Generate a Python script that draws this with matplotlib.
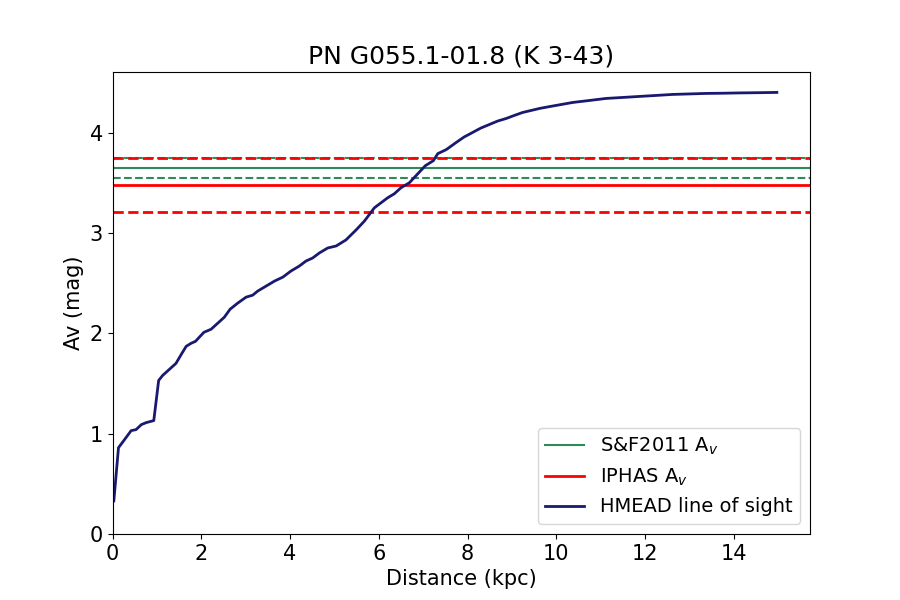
from matplotlib import pyplot as plt
import numpy as np

# Curva HMEAD (distancia en kpc, Av en mag)
dist = [0.03, 0.135, 0.27, 0.42, 0.53, 0.65, 0.76, 0.93, 1.04, 1.13, 1.28, 1.43,
        1.55, 1.66, 1.77, 1.87, 2.06, 2.22, 2.37, 2.52, 2.65, 2.82, 3.01, 3.16,
        3.27, 3.46, 3.65, 3.84, 4.02, 4.21, 4.36, 4.51, 4.66, 4.85, 5.04, 5.26,
        5.49, 5.68, 5.90, 6.05, 6.20, 6.35, 6.50, 6.69, 6.88, 7.05, 7.23, 7.33,
        7.52, 7.74, 7.92, 8.11, 8.30, 8.49, 8.68, 8.87, 9.05, 9.24, 9.43, 9.62,
        9.80, 9.99, 10.18, 10.37, 10.75, 11.12, 11.50, 11.87, 12.25, 12.62,
        13.00, 13.37, 13.75, 14.12, 14.50, 14.97]
av = [0.33, 0.86, 0.94, 1.03, 1.04, 1.09, 1.11, 1.13, 1.53, 1.58, 1.64, 1.70,
      1.79, 1.87, 1.90, 1.92, 2.01, 2.04, 2.10, 2.16, 2.24, 2.30, 2.36, 2.38,
      2.42, 2.47, 2.52, 2.56, 2.62, 2.67, 2.72, 2.75, 2.80, 2.85, 2.87, 2.93,
      3.03, 3.12, 3.25, 3.30, 3.35, 3.39, 3.45, 3.50, 3.59, 3.67, 3.72, 3.79,
      3.83, 3.90, 3.955, 4.00, 4.045, 4.08, 4.115, 4.14, 4.17, 4.20, 4.22, 4.24,
      4.255, 4.27, 4.285, 4.30, 4.32, 4.34, 4.35, 4.36, 4.37, 4.38,
      4.385, 4.39, 4.392, 4.395, 4.397, 4.40]

# Valores de extincion y sus errores
sf_av, sf_err = 3.65, 0.10
iphas_av, iphas_lo, iphas_hi = 3.48, 3.21, 3.75

plt.figure(figsize=(9, 6), dpi=100)
plt.axhline(sf_av, color='seagreen', lw=1.5, label='S&F2011 A$_v$')
plt.axhline(sf_av - sf_err, color='seagreen', lw=1.5, ls='--')
plt.axhline(sf_av + sf_err, color='seagreen', lw=1.5, ls='--')
plt.axhline(iphas_av, color='red', lw=2, label='IPHAS A$_v$')
plt.axhline(iphas_lo, color='red', lw=2, ls='--')
plt.axhline(iphas_hi, color='red', lw=2, ls='--')
plt.plot(dist, av, color='midnightblue', lw=2, label='HMEAD line of sight')

plt.xlim(left=0)
plt.ylim(bottom=0)
plt.title('PN G055.1-01.8 (K 3-43)', fontsize=18)
plt.xlabel('Distance (kpc)', fontsize=15)
plt.ylabel('Av (mag)', fontsize=15)
plt.xticks(fontsize=15)
plt.yticks(fontsize=15)
plt.legend(loc='lower right', fontsize=14)
plt.savefig('out.png')
